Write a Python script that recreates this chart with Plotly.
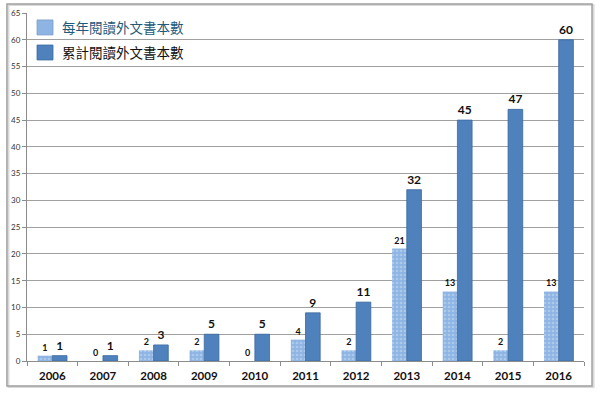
import plotly.graph_objects as go

years = ["2006", "2007", "2008", "2009", "2010", "2011", "2012", "2013", "2014", "2015", "2016"]
yearly = [1, 0, 2, 2, 0, 4, 2, 21, 13, 2, 13]
cumulative = [1, 1, 3, 5, 5, 9, 11, 32, 45, 47, 60]
name_yearly = "每年閱讀外文書本數"
name_cum = "累計閱讀外文書本數"

LIGHT = "#8EB4E3"
DARK = "#4F81BD"

fig = go.Figure()
fig.add_trace(go.Bar(
    x=years, y=yearly, name=name_yearly, showlegend=False,
    marker=dict(color=LIGHT, line=dict(width=0),
                pattern=dict(shape=".", fgcolor="#C9DCF2", bgcolor=LIGHT, size=4, solidity=0.35)),
    text=[str(v) for v in yearly], textposition="outside", cliponaxis=False,
    textfont=dict(family="Lato, DejaVu Sans", size=9, color="#111", weight="bold"),
))
fig.add_trace(go.Bar(
    x=years, y=cumulative, name=name_cum, showlegend=False,
    marker=dict(color=DARK, line=dict(color="#3A6A9E", width=0.8)),
    text=[str(v) for v in cumulative], textposition="outside", cliponaxis=False,
    textfont=dict(family="Lato, DejaVu Sans", size=12, color="#111", weight="bold"),
))

fig.update_layout(
    width=600, height=393,
    margin=dict(l=27, r=16, t=13, b=32),
    paper_bgcolor="white", plot_bgcolor="white",
    barmode="group", bargap=0.42, bargroupgap=0.0,
    font=dict(family="Lato, Noto Sans CJK TC", color="#222"),
    showlegend=False,
)
fig.update_yaxes(range=[0, 65], dtick=5, showgrid=True, gridcolor="#A0A0A0", gridwidth=1,
                 showline=True, linecolor="#8C8C8C", linewidth=1, ticks="outside", ticklen=4,
                 tickcolor="#8C8C8C", tickfont=dict(size=8, color="#333", family="Lato"),
                 zeroline=False, automargin=False)
fig.update_xaxes(range=[-0.5, 10.5], showline=True, linecolor="#8C8C8C", linewidth=1,
                 ticks="outside", ticklen=4, tickcolor="#8C8C8C", tickson="boundaries",
                 ticklabelstandoff=4,
                 tickfont=dict(size=11.5, color="#111", family="Lato", weight="bold"),
                 showgrid=False, automargin=False)

# outer chart frame with light shadow
fig.add_shape(type="rect", xref="paper", yref="paper", x0=-0.0333, x1=1.0171, y0=-0.0747, y1=1.023,
              line=dict(color="#DADADA", width=2), fillcolor="rgba(0,0,0,0)", layer="above")
fig.add_shape(type="rect", xref="paper", yref="paper", x0=-0.036, x1=1.0144, y0=-0.0718, y1=1.026,
              line=dict(color="#A0A0A0", width=1.5), fillcolor="rgba(0,0,0,0)", layer="above")

# manual legend
legend_items = [(name_yearly, LIGHT, "#1F5A7A", 0.980, 0.937), (name_cum, DARK, "#111111", 0.908, 0.865)]
for label, col, tcol, y1, y0 in legend_items:
    fig.add_shape(type="rect", xref="paper", yref="paper", x0=0.018, x1=0.0467, y0=y0, y1=y1,
                  fillcolor=col, line=dict(color="#7A9CC6" if col == LIGHT else "#3A6A9E", width=0.8),
                  layer="above")
    fig.add_annotation(xref="paper", yref="paper", x=0.0592, y=(y0 + y1) / 2, text=label,
                       showarrow=False, xanchor="left", yanchor="middle",
                       font=dict(family="Noto Sans CJK TC", size=13.5, color=tcol))

fig.write_html("out.html", config={"displayModeBar": False},
               post_script="document.body.style.margin='0';")
